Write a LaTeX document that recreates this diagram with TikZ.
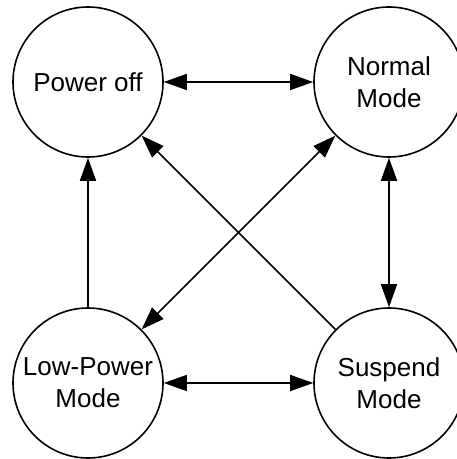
\documentclass[tikz,border=0pt]{standalone}
\usepackage{fontspec}
\setmainfont{Liberation Sans}
\usetikzlibrary{positioning,arrows.meta}
\begin{document}
\begin{tikzpicture}[
%scale=.5, every node/.style={scale=0.6},
node distance=150.5pt, on grid,
>={Triangle[length=11.5pt,width=8pt]},
state/.style={circle,draw,line width=0.8pt,minimum size=75pt,inner sep=0pt,align=center,font=\fontsize{13}{16}\selectfont},
trans/.style={line width=0.8pt},
]
\useasboundingbox (-44pt,41pt) rectangle (184pt,-188.5pt);
\node [state] (off) {Power off};
\node [state] (normal) [right=of off] {Normal\\Mode};
\node [state] (low) [below=of off] {Low-Power\\Mode};
\node [state] (suspend) [right=of low] {Suspend\\Mode};
%\node [state] (reset) {Reset};
\draw [trans,<->] (off) -- (normal);
\draw [trans,<->] (normal) -- (suspend);
\draw [trans,<->] (low) -- (suspend);
\draw [trans,<->] (normal) -- (low);
\draw [trans,->] (low) -- (off);
\draw [trans,->] (suspend) -- (off);
\end{tikzpicture}
\end{document}
